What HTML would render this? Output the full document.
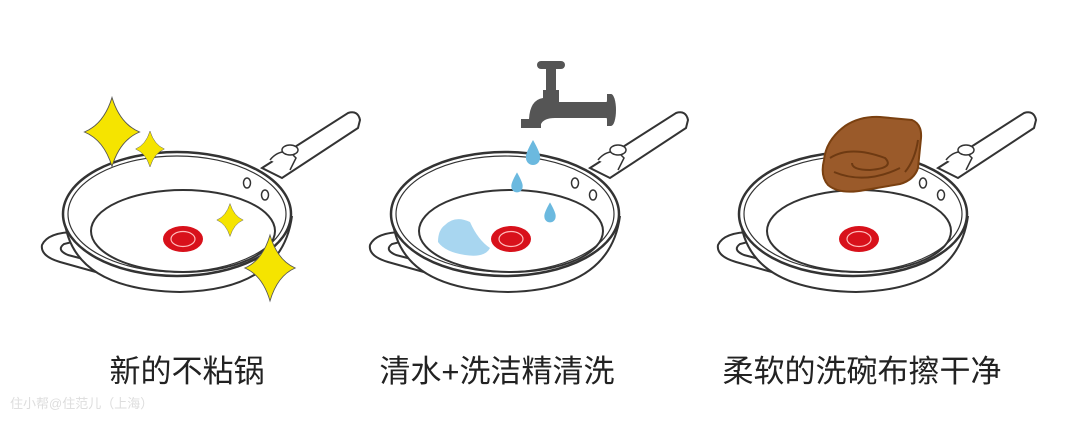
<!DOCTYPE html>
<html><head><meta charset="utf-8"><style>
html,body{margin:0;padding:0;background:#fff;width:1080px;height:423px;overflow:hidden}
svg{position:absolute;left:0;top:0}
.lbl{font-family:"Liberation Sans","Noto Sans CJK SC",sans-serif;font-size:31px;fill:#222}
</style></head><body>
<svg width="1080" height="423" viewBox="0 0 1080 423">
<defs>
<g id="pan" fill="none" stroke="#333" stroke-width="2">
  <path d="M262,168 L348,113 Q358,110 360,120 L358,128 L282,178 Z" fill="#fff"/>
  <path d="M270,160 Q278,150 290,152 L296,158 L290,170" fill="#fff" stroke-width="1.5"/>
  <ellipse cx="290" cy="150" rx="8" ry="5" fill="#fff" stroke-width="1.5"/>
  <path d="M76,232 Q48,232 42,245 Q40,256 60,262 L110,276 L118,268 L68,255 Q56,250 64,244 L80,240" fill="#fff"/>
  <path d="M64,216 Q70,290 180,292 Q282,290 292,216" fill="#fff"/>
  <ellipse cx="177" cy="214" rx="114" ry="62" fill="#fff" stroke-width="2.5"/>
  <ellipse cx="177" cy="214" rx="109" ry="58" stroke-width="1.2"/>
  <ellipse cx="183" cy="231" rx="92" ry="41" stroke-width="2"/>
  <ellipse cx="247" cy="183" rx="3.5" ry="5" stroke-width="1.5"/>
  <ellipse cx="265" cy="195" rx="3.5" ry="5" stroke-width="1.5"/>
  <ellipse cx="183" cy="239" rx="20" ry="13" fill="#d8111b" stroke="none"/>
  <ellipse cx="183" cy="239" rx="12" ry="7.5" stroke="#fbb" stroke-width="1.2"/>
</g>
<path id="star" d="M0,-30 Q7,-7 24,0 Q7,7 0,30 Q-7,7 -24,0 Q-7,-7 0,-30Z" fill="#f5e400" stroke="#555" stroke-width="0.8"/>
<path id="drop" d="M0,-12 Q8,2 7,6 A7,7 0 0 1 -7,6 Q-8,2 0,-12Z" fill="#6bb9df"/>
</defs>
<use href="#pan"/>
<use href="#pan" transform="translate(328,0)"/>
<use href="#pan" transform="translate(676,0)"/>
<use href="#star" transform="translate(112,132) scale(1.15,1.15)"/>
<use href="#star" transform="translate(150,149) scale(0.6,0.6)"/>
<use href="#star" transform="translate(230,220) scale(0.55,0.55)"/>
<use href="#star" transform="translate(270,268) scale(1.05,1.1)"/>
<g fill="#555">
  <rect x="537" y="61" width="28" height="8" rx="4"/>
  <rect x="546" y="66" width="10" height="28"/>
  <path d="M543,90 h16 v12 h48 v-8 h4 v32 h-4 v-8 h-52 Q544,118 541,124 v4 h-20 v-9 h8 Q530,100 543,98Z"/>
  <ellipse cx="611" cy="110" rx="5" ry="16"/>
</g>
<use href="#drop" transform="translate(533,152)"/>
<use href="#drop" transform="translate(517,182) scale(0.8)"/>
<use href="#drop" transform="translate(550,212) scale(0.8)"/>
<path d="M445,225 Q455,215 470,222 Q478,240 490,248 Q485,258 465,255 Q445,252 438,242 Q438,230 445,225Z" fill="#a8d6f0"/>
<path d="M824,160 Q826,140 845,126 Q860,116 880,117 L912,120 Q922,124 921,138 L918,168 Q914,180 900,184 L865,190 Q840,195 828,185 Q820,176 824,160Z" fill="#9a5a2a" stroke="#7a4010" stroke-width="2"/>
<path d="M830,158 Q850,145 885,158 Q895,168 870,170 Q852,170 852,163 M834,172 Q865,185 900,168 M918,140 Q915,160 905,172" fill="none" stroke="#6e3a12" stroke-width="2"/>
<text class="lbl" x="187" y="382" text-anchor="middle">新的不粘锅</text>
<text class="lbl" x="497" y="382" text-anchor="middle">清水+洗洁精清洗</text>
<text class="lbl" x="862" y="382" text-anchor="middle">柔软的洗碗布擦干净</text>
<text x="10" y="408" font-family="Liberation Sans,'Noto Sans CJK SC',sans-serif" font-size="13" fill="#ddd">住小帮@住范儿（上海）</text>
</svg>
</body></html>
